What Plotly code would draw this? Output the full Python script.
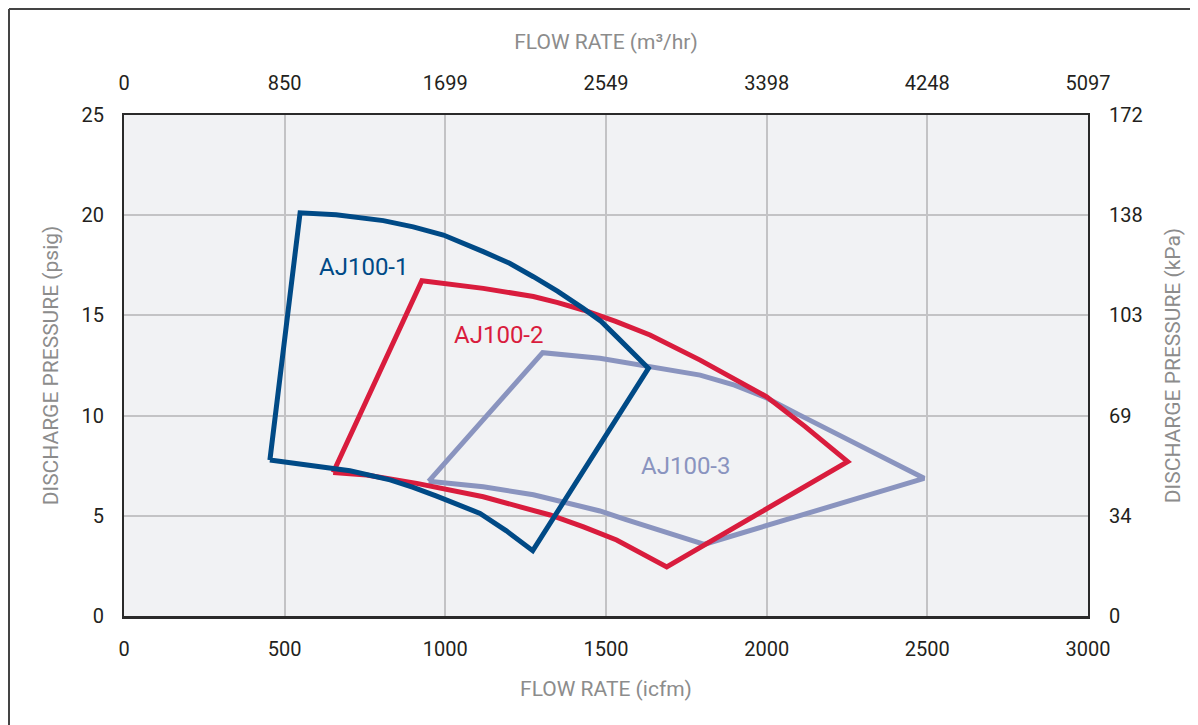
import plotly.graph_objects as go

# ---- data (icfm, psig) ----
aj1_flow = [454, 548, 660, 807, 900, 994, 1118, 1200, 1274, 1350, 1429, 1485, 1533, 1585, 1632, 1272, 1190, 1108, 1040, 973, 900, 828, 703, 454]
aj1_psig = [7.78, 20.12, 20.02, 19.73, 19.42, 19.01, 18.18, 17.60, 16.93, 16.20, 15.35, 14.70, 13.94, 13.15, 12.36, 3.26, 4.25, 5.12, 5.58, 5.98, 6.42, 6.79, 7.25, 7.78]

aj2_flow = [651, 927, 1118, 1274, 1350, 1429, 1530, 1637, 1793, 1890, 2000, 2120, 2252, 1689, 1610, 1533, 1430, 1326, 1118, 911, 755, 651]
aj2_psig = [7.16, 16.73, 16.35, 15.94, 15.64, 15.27, 14.70, 14.02, 12.77, 11.92, 10.94, 9.45, 7.70, 2.45, 3.15, 3.79, 4.45, 5.04, 5.95, 6.62, 7.04, 7.16]

aj3_flow = [948, 1303, 1481, 1637, 1793, 1900, 2000, 2100, 2207, 2350, 2490, 1806, 1720, 1637, 1560, 1481, 1380, 1274, 1118, 948]
aj3_psig = [6.72, 13.14, 12.86, 12.44, 12.02, 11.52, 10.88, 10.05, 9.18, 8.03, 6.87, 3.58, 4.00, 4.40, 4.82, 5.24, 5.62, 6.05, 6.45, 6.72]

series_names = ["AJ100-1", "AJ100-2", "AJ100-3"]
label_flow = [744, 1164, 1746]
label_psig = [17.4, 14.0, 7.5]

icfm_ticks = [0, 500, 1000, 1500, 2000, 2500, 3000]
m3hr_labels = ["0", "850", "1699", "2549", "3398", "4248", "5097"]
psig_ticks = [0, 5, 10, 15, 20, 25]
kpa_labels = ["0", "34", "69", "103", "138", "172"]

colors = ["#004a86", "#d91c3d", "#8a94bf"]

FONT = "Roboto, Arial, sans-serif"
TICK_COLOR = "#231f20"
TITLE_COLOR = "#8c8c8c"

fig = go.Figure()

# draw order: AJ100-3 bottom, AJ100-2, AJ100-1 on top
for name, xs, ys, c in [
    (series_names[2], aj3_flow, aj3_psig, colors[2]),
    (series_names[1], aj2_flow, aj2_psig, colors[1]),
    (series_names[0], aj1_flow, aj1_psig, colors[0]),
]:
    fig.add_trace(go.Scatter(x=xs, y=ys, mode="lines", name=name,
                             line=dict(color=c, width=5), showlegend=False,
                             hoverinfo="x+y+name"))

# invisible trace to carry the secondary (metric) axes
fig.add_trace(go.Scatter(x=[icfm_ticks[0], icfm_ticks[-1]], y=[psig_ticks[0], psig_ticks[-1]],
                         xaxis="x2", yaxis="y2", mode="none", showlegend=False,
                         hoverinfo="skip"))

for name, x, y, c in zip(series_names, label_flow, label_psig, colors):
    fig.add_annotation(x=x, y=y, text=name, showarrow=False,
                       font=dict(family=FONT, size=24, color=c))

tickfont = dict(family=FONT, size=20, color=TICK_COLOR)
titlefont = dict(family=FONT, size=21, color=TITLE_COLOR)

ML, MT, PW, PH = 116, 107, 964, 501

fig.update_layout(
    width=1198, height=725,
    margin=dict(l=ML, r=1198 - ML - PW, t=MT, b=725 - MT - PH),
    paper_bgcolor="white",
    plot_bgcolor="#f1f2f4",
    xaxis=dict(range=[0, 3000], tickvals=icfm_ticks, ticks="", automargin=False,
               ticklabelstandoff=13, tickfont=tickfont,
               showgrid=True, gridcolor="#c3c3c5", gridwidth=2,
               showline=True, linecolor="#2a2a2a", linewidth=3,
               zeroline=False,
               title=dict(text="FLOW RATE (icfm)", font=titlefont, standoff=22)),
    yaxis=dict(range=[0, 25], tickvals=psig_ticks, ticks="", automargin=False,
               ticklabelstandoff=14, tickfont=tickfont,
               showgrid=True, gridcolor="#c3c3c5", gridwidth=2,
               showline=True, linecolor="#2a2a2a", linewidth=2,
               zeroline=False,
               title=dict(text="DISCHARGE PRESSURE (psig)", font=titlefont, standoff=17)),
    xaxis2=dict(range=[0, 3000], overlaying="x", side="top", automargin=False,
                tickvals=icfm_ticks, ticktext=m3hr_labels, ticks="",
                ticklabelstandoff=15, tickfont=tickfont, showgrid=False,
                showline=True, linecolor="#2a2a2a", linewidth=2, zeroline=False,
                title=dict(text="FLOW RATE (m\u00b3/hr)", font=titlefont, standoff=16)),
    yaxis2=dict(range=[0, 25], overlaying="y", side="right", automargin=False,
                tickvals=psig_ticks, ticktext=kpa_labels, ticks="",
                ticklabelstandoff=15, tickfont=tickfont, showgrid=False,
                showline=True, linecolor="#2a2a2a", linewidth=2, zeroline=False,
                title=dict(text="DISCHARGE PRESSURE (kPa)", font=titlefont, standoff=24)),
)

# outer frame (left and top edges visible), drawn at the figure's top-left edge
fx = (1 - ML) / PW
fy = (MT + PH - 1) / PH
fig.add_shape(type="line", xref="paper", yref="paper",
              x0=fx, x1=fx, y0=fy, y1=-(725 - MT - PH + 10) / PH,
              line=dict(color="#444444", width=2))
fig.add_shape(type="line", xref="paper", yref="paper",
              x0=fx, x1=(1198 - ML + 10) / PW, y0=fy, y1=fy,
              line=dict(color="#444444", width=2))

fig.write_html("out.html")
